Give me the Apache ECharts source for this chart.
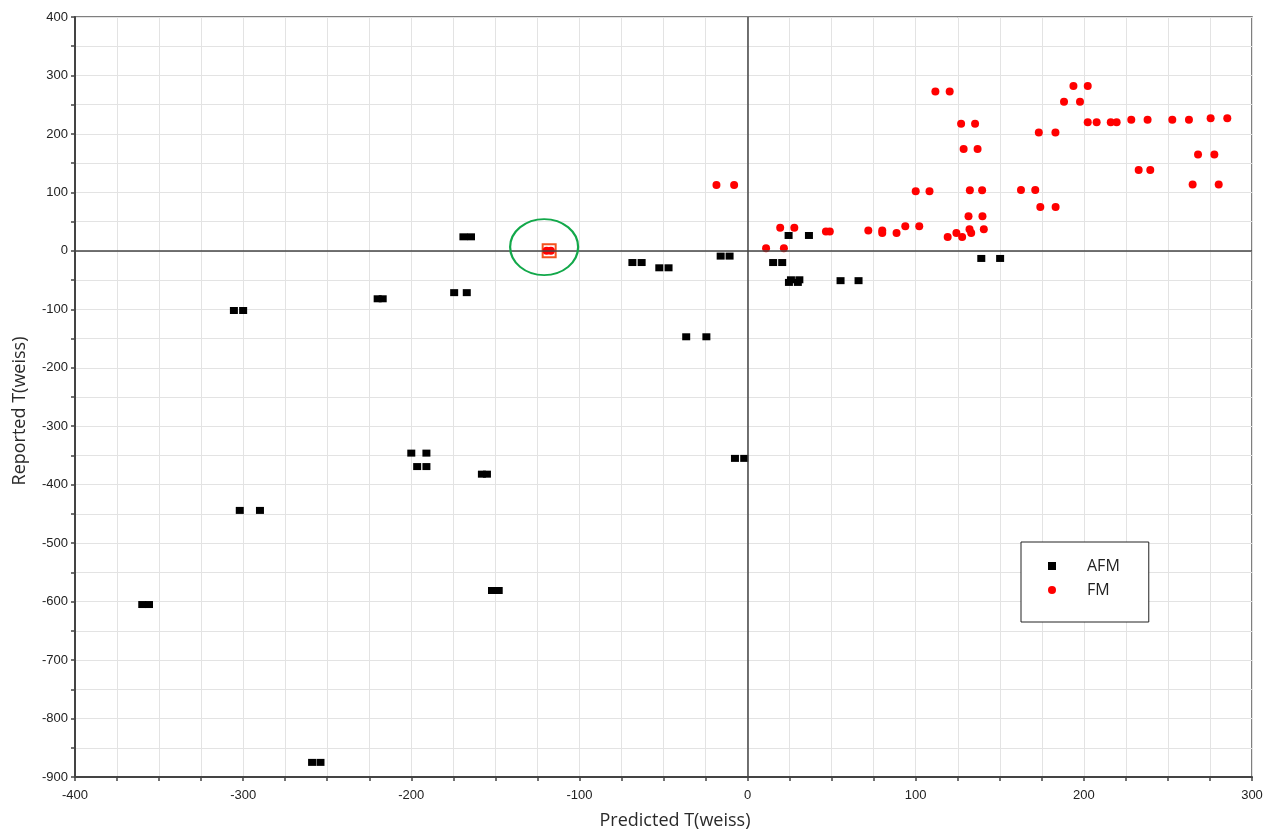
<!DOCTYPE html>
<html>
<head>
<meta charset="utf-8">
<script src="https://cdn.jsdelivr.net/npm/echarts@6/dist/echarts.min.js"></script>
<style>
html,body{margin:0;padding:0;background:#fff;}
#chart{width:1264px;height:829px;}
</style>
</head>
<body>
<div id="chart"></div>
<script>
// ---- data ----
const seriesNames = ['AFM', 'FM'];
const afmX = [-360, -356, -259, -254, -305.5, -300, -302, -290, -220, -217,
  -200, -191, -196.5, -191, -158, -155, -152, -148, -7.5, -2,
  -169, -164.5, -174.5, -167, -68.5, -63, -52.5, -47, -36.5, -24.5,
  -16, -10.7, 15.2, 20.6, 24.4, 36.5, 24.6, 25.8, 29.9, 30.8,
  55.3, 66, 139, 150.2];
const afmY = [-605, -605, -875, -875, -102, -102, -444, -444, -82, -82,
  -346, -346, -369, -369, -382, -382, -581, -581, -355, -355,
  24, 24, -71.5, -71.5, -20, -20, -29, -29, -147, -147,
  -9, -9, -20, -20, 26.3, 26.3, -54, -49.5, -54, -49.5,
  -51, -51, -13, -13];
const fmX = [-18.5, -8, -119.5, -117, 11, 21.6, 19.4, 27.8, 46.6, 48.9,
  71.8, 80.1, 80.1, 88.6, 93.8, 102.1, 100, 108.2, 111.7, 120.2,
  127, 135.3, 128.5, 136.8, 132.2, 139.5, 131.4, 139.7, 119, 127.6,
  124.2, 133, 132, 140.5, 162.6, 171.1, 174.1, 183.2, 173.2, 183.1,
  188.2, 197.7, 193.8, 202.3, 202.3, 207.6, 216, 219.5, 228.2, 237.9,
  252.6, 262.5, 275.4, 285.3, 232.6, 239.5, 267.9, 277.6, 264.7, 280.2];
const fmY = [112.5, 112.5, 0, 0, 4.5, 4.5, 39.6, 39.6, 33, 33,
  34.8, 34.8, 30.5, 30.5, 42, 42, 102, 102, 272.7, 272.7,
  217.6, 217.6, 174, 174, 103.8, 103.8, 59.3, 59.3, 23.8, 23.8,
  30.5, 30.5, 36.8, 36.8, 104, 104, 75, 75, 202.3, 202.3,
  255.2, 255.2, 281.9, 281.9, 219.8, 219.8, 219.8, 219.8, 224.4, 224.4,
  224.4, 224.4, 226.6, 226.6, 138.4, 138.4, 165, 165, 113.4, 113.4];
const highlightPoint = [-118, 0];
const highlightEllipseCenter = [-121, 6.5];
const xRange = [-400, 300];
const yRange = [-900, 400];
const xTitle = 'Predicted T(weiss)';
const yTitle = 'Reported T(weiss)';

const zip = (xs, ys) => xs.map((x, i) => [x, ys[i]]);

const chart = echarts.init(document.getElementById('chart'), null, {renderer: 'canvas'});
const labelFmt = v => (Math.round(v) % 100 === 0 ? String(v) : '');
const tickFont = {fontFamily: 'Liberation Sans, Arial, sans-serif', fontSize: 13, color: '#222'};
const titleFont = {fontFamily: 'Open Sans, sans-serif', fontSize: 18, color: '#2a2a2a'};

chart.setOption({
  animation: false,
  backgroundColor: '#fff',
  grid: {left: 75, top: 17, width: 1177, height: 760, containLabel: false, outerBoundsMode: 'none',
    show: true, borderColor: '#555', borderWidth: 1.5, backgroundColor: 'transparent'},
  xAxis: {
    type: 'value', min: xRange[0], max: xRange[1], interval: 25,
    name: xTitle, nameLocation: 'middle', nameGap: 35,
    nameTextStyle: Object.assign({padding: [0, 0, 0, 23]}, titleFont),
    axisLine: {onZero: false, lineStyle: {color: '#444', width: 2}},
    axisTick: {show: true, length: 4, lineStyle: {color: '#444', width: 1.5}},
    axisLabel: Object.assign({formatter: labelFmt, margin: 12, showMinLabel: true, showMaxLabel: true}, tickFont),
    splitLine: {show: true, lineStyle: {color: '#e3e3e3', width: 1}}
  },
  yAxis: {
    type: 'value', min: yRange[0], max: yRange[1], interval: 50,
    name: yTitle, nameLocation: 'middle', nameGap: 46, nameRotate: 90,
    nameTextStyle: Object.assign({padding: [0, 28, 0, 0]}, titleFont),
    axisLine: {onZero: false, lineStyle: {color: '#444', width: 2}},
    axisTick: {show: true, length: 4, lineStyle: {color: '#444', width: 1.5}},
    axisLabel: Object.assign({formatter: labelFmt, margin: 7, showMinLabel: true, showMaxLabel: true}, tickFont),
    splitLine: {show: true, lineStyle: {color: '#e3e3e3', width: 1}}
  },
  legend: {
    data: [{name: seriesNames[0], icon: 'rect'}, {name: seriesNames[1], icon: 'circle'}],
    orient: 'vertical', left: 1021, top: 542,
    padding: [15, 29, 23, 27], itemGap: 6, itemWidth: 8, itemHeight: 8,
    borderColor: '#222', borderWidth: 1, backgroundColor: '#fff',
    textStyle: {fontFamily: 'Open Sans, sans-serif', fontSize: 16, color: '#222', lineHeight: 18, padding: [0, 0, 0, 26]}
  },
  series: [
    {
      name: seriesNames[0], type: 'scatter', symbol: 'rect', symbolSize: [8, 7],
      itemStyle: {color: '#000', opacity: 1}, data: zip(afmX, afmY), z: 3,
      markLine: {
        silent: true, symbol: 'none', label: {show: false},
        lineStyle: {color: '#444', width: 1.5, type: 'solid'},
        data: [{xAxis: 0}, {yAxis: 0}]
      }
    },
    {
      name: seriesNames[1], type: 'scatter', symbol: 'circle', symbolSize: 8,
      itemStyle: {color: '#ff0000', opacity: 1}, data: zip(fmX, fmY), z: 4
    },
    {
      name: 'highlight', type: 'scatter', symbol: 'rect', symbolSize: 13, silent: true,
      itemStyle: {color: 'rgba(0,0,0,0)', borderColor: '#f4511e', borderWidth: 2, opacity: 1},
      data: [highlightPoint], z: 3
    },
    {
      name: 'ellipse', type: 'scatter', symbol: 'circle', symbolSize: [68, 56], silent: true,
      itemStyle: {color: 'rgba(0,0,0,0)', borderColor: '#12a84a', borderWidth: 2, opacity: 1},
      data: [highlightEllipseCenter], z: 5
    }
  ]
});
</script>
</body>
</html>
